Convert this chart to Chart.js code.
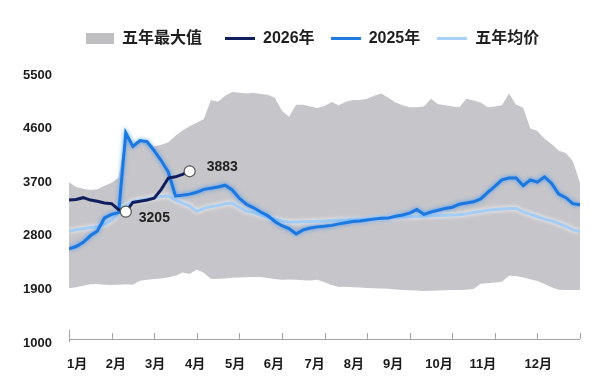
<!DOCTYPE html>
<html>
<head>
<meta charset="utf-8">
<script src="https://cdn.jsdelivr.net/npm/chart.js@4.4.1/dist/chart.umd.min.js"></script>
<style>
  body { margin: 0; background: #fff; }
  #wrap { position: relative; width: 600px; height: 392px; }
  #legend {
    position: absolute; top: 29px; left: 86px;
    display: flex; align-items: center;
    font: bold 16px "Liberation Sans", "Noto Sans CJK SC", sans-serif;
    color: #1f1f1f; line-height: 18px;
  }
  #legend .item { display: flex; align-items: center; }
  #legend .mark { display: inline-block; margin-right: 8px; }
</style>
</head>
<body>
<div id="wrap">
  <canvas id="graph" width="600" height="392"></canvas>
  <div id="legend">
    <div class="item" style="margin-right:23px"><span class="mark" style="width:28px;height:11px;background:#bfbec1"></span>五年最大值</div>
    <div class="item" style="margin-right:16px"><span class="mark" style="width:30px;height:3px;background:#111e5e"></span>2026年</div>
    <div class="item" style="margin-right:17px"><span class="mark" style="width:30px;height:3px;background:#1e7be2"></span>2025年</div>
    <div class="item"><span class="mark" style="width:30px;height:3px;background:#a8d2f5"></span>五年均价</div>
  </div>
</div>
<script>
// one point every 5 days or so: 6 points per month, 73 points over the year
const STEPS_PER_MONTH = 6;

const monthLabels = ["1月", "2月", "3月", "4月", "5月", "6月", "7月", "8月", "9月", "10月", "11月", "12月"];
// where each month label sits on the axis (in months), as in the picture
const monthLabelPos = [0.19, 1.1, 2.02, 2.96, 3.9, 4.81, 5.77, 6.69, 7.61, 8.69, 9.72, 11.02];
const yTicks = [1000, 1900, 2800, 3700, 4600, 5500];

const fiveYearMax = [
  3700, 3620, 3590, 3570, 3580, 3640, 3690, 3780, 4530, 4300,
  4400, 4380, 4300, 4330, 4370, 4480, 4570, 4640, 4700, 4760,
  5080, 5050, 5150, 5215, 5200, 5190, 5200, 5180, 5170, 5120,
  4900, 4800, 5000, 5000, 4970, 4945, 4980, 5045, 4990, 5050,
  5080, 5080, 5100, 5150, 5190, 5120, 5040, 4990, 4960, 4960,
  4970, 5100, 5010, 4990, 4970, 4960, 5100, 5070, 5040, 4960,
  4970, 4990, 5190, 5000, 4950, 4600, 4560, 4430, 4340, 4230,
  4190, 4050, 3690
];
const fiveYearMin = [
  1920, 1935, 1960, 1985, 1990, 1980, 1975, 1980, 1985, 1980,
  2045, 2060, 2075, 2085, 2105, 2130, 2185, 2160, 2235, 2180,
  2075, 2080, 2085, 2095, 2100, 2105, 2110, 2110, 2090, 2075,
  2060, 2065, 2060, 2055, 2050, 2060, 2020, 1975, 1940, 1945,
  1935, 1930, 1925, 1920, 1915, 1910, 1900, 1890, 1885, 1880,
  1875, 1878, 1880, 1885, 1890, 1890, 1895, 1905, 1995, 2005,
  2015, 2030, 2130, 2125, 2100, 2070, 2040, 1990, 1935, 1895,
  1890, 1890, 1890
];
const y2025 = [
  2580, 2620, 2690, 2800, 2880, 3100, 3160, 3190, 4530, 4300,
  4400, 4380, 4230, 4060, 3870, 3470, 3480, 3500, 3530, 3580,
  3600, 3620, 3650, 3570, 3430, 3330, 3270, 3200, 3140, 3040,
  2970, 2920, 2830, 2900, 2930, 2950, 2960, 2975, 3000, 3020,
  3040, 3050, 3065, 3080, 3095, 3100, 3130, 3150, 3180, 3240,
  3160, 3200, 3230, 3260, 3280, 3330, 3350, 3370, 3420, 3530,
  3630, 3740, 3770, 3770, 3640, 3740, 3700, 3790, 3680, 3500,
  3440, 3340, 3320
];
const fiveYearAvg = [
  2880, 2900, 2920, 2940, 2950, 2990, 3060, 3200, 3300, 3380,
  3400, 3420, 3440, 3460, 3470, 3400, 3350, 3300, 3210, 3260,
  3290, 3310, 3340, 3350, 3280, 3210, 3190, 3150, 3110, 3080,
  3050, 3030, 3030, 3035, 3040, 3045, 3050, 3055, 3060, 3065,
  3070, 3075, 3080, 3090, 3100, 3105, 3110, 3115, 3120, 3125,
  3130, 3135, 3140, 3145, 3150, 3155, 3170, 3190, 3210, 3230,
  3240, 3250, 3260, 3260, 3200, 3160, 3120, 3080, 3050, 3010,
  2960, 2900, 2870
];
const y2026 = [3400, 3410, 3440, 3400, 3380, 3350, 3340, 3240, 3205, 3360, 3380, 3400, 3430, 3580, 3770, 3790, 3830, 3883];

// points of 2026 that get a marker and a value label
const markedPoints = [8, 17];

const toXY = arr => arr.map((v, i) => ({ x: i / STEPS_PER_MONTH, y: v }));

const tickFont = { family: '"Liberation Sans", "Noto Sans CJK SC", sans-serif', size: 13, weight: "bold" };

// axis line with small tick marks pointing up, at month boundaries
const axisLine = {
  id: "axisLine",
  afterDatasetsDraw(chart) {
    const { ctx, chartArea, scales } = chart;
    const y0 = chartArea.bottom - 4;
    ctx.save();
    ctx.strokeStyle = "#a4a4a4";
    ctx.lineWidth = 1;
    ctx.beginPath();
    ctx.moveTo(scales.x.getPixelForValue(0), y0 + 0.5);
    ctx.lineTo(scales.x.getPixelForValue(12), y0 + 0.5);
    for (let m = 0; m <= 12; m++) {
      const px = Math.round(scales.x.getPixelForValue(m)) + 0.5;
      ctx.moveTo(px, y0 - (m === 0 ? 9 : 6));
      ctx.lineTo(px, y0 + (m === 0 ? 3 : 0));
    }
    ctx.stroke();
    ctx.restore();
  },
};

// soft glow under the two blue lines
const glow = {
  id: "glow",
  beforeDatasetDraw(chart, args) {
    const ds = chart.data.datasets[args.index];
    if (!ds.glow) return;
    chart.ctx.save();
    chart.ctx.shadowColor = ds.glow;
    chart.ctx.shadowBlur = 4;
  },
  afterDatasetDraw(chart, args) {
    if (chart.data.datasets[args.index].glow) chart.ctx.restore();
  },
};

// value labels next to the marked 2026 points
const valueLabels = {
  id: "valueLabels",
  afterDatasetsDraw(chart) {
    const meta = chart.getDatasetMeta(2);
    const { ctx } = chart;
    ctx.save();
    ctx.font = "bold 14px 'Liberation Sans', sans-serif";
    ctx.fillStyle = "#222";
    ctx.textAlign = "left";
    ctx.textBaseline = "middle";
    const p1 = meta.data[markedPoints[0]];
    ctx.fillText(String(y2026[markedPoints[0]]), p1.x + 13, p1.y + 6);
    const p2 = meta.data[markedPoints[1]];
    ctx.fillText(String(y2026[markedPoints[1]]), p2.x + 17, p2.y - 4);
    ctx.restore();
  },
};

const ctx = document.getElementById("graph").getContext("2d");

new Chart(ctx, {
  type: "line",
  data: {
    datasets: [
      {
        label: "五年最大值",
        data: toXY(fiveYearMax),
        borderWidth: 0,
        pointRadius: 0,
        backgroundColor: "#c6c5c9",
        fill: "+1",
        order: 10,
      },
      {
        label: "五年最小值",
        data: toXY(fiveYearMin),
        borderWidth: 0,
        pointRadius: 0,
        fill: false,
        order: 11,
      },
      {
        label: "2026年",
        data: toXY(y2026),
        borderColor: "#111e5e",
        borderWidth: 3,
        pointRadius: y2026.map((v, i) => (markedPoints.includes(i) ? 5.5 : 0)),
        pointBackgroundColor: "#fff",
        pointBorderColor: "#555",
        pointBorderWidth: 1.2,
        fill: false,
        order: 0,
      },
      {
        label: "2025年",
        data: toXY(y2025),
        borderColor: "#1b78e0",
        borderWidth: 3,
        pointRadius: 0,
        fill: false,
        glow: "rgba(40,140,255,0.8)",
        order: 1,
      },
      {
        label: "五年均价",
        data: toXY(fiveYearAvg),
        borderColor: "#a3cdf4",
        borderWidth: 3,
        pointRadius: 0,
        fill: false,
        glow: "rgba(255,255,255,0.9)",
        order: 2,
      },
    ],
  },
  options: {
    responsive: false,
    animation: false,
    devicePixelRatio: 1,
    layout: { padding: { top: 75, right: 20, left: 0, bottom: 0 } },
    elements: { line: { tension: 0 } },
    plugins: {
      legend: { display: false },
      tooltip: { enabled: false },
    },
    scales: {
      x: {
        type: "linear",
        min: 0,
        max: 12,
        grid: { display: false, drawTicks: false },
        border: { display: false },
        afterBuildTicks: scale => {
          scale.ticks = monthLabelPos.map(v => ({ value: v }));
        },
        afterFit: scale => {
          scale.height = 49;
        },
        ticks: {
          autoSkip: false,
          maxRotation: 0,
          padding: 14,
          color: "#1a1a1a",
          font: tickFont,
          callback: (v, i) => monthLabels[i],
        },
      },
      y: {
        min: yTicks[0],
        max: yTicks[yTicks.length - 1],
        grid: { display: false, drawTicks: false },
        border: { display: false },
        afterBuildTicks: scale => {
          scale.ticks = yTicks.map(v => ({ value: v }));
        },
        afterFit: scale => {
          scale.width = 69;
        },
        ticks: {
          padding: 17,
          color: "#1a1a1a",
          font: tickFont,
          callback: v => String(v),
        },
      },
    },
  },
  plugins: [axisLine, glow, valueLabels],
});
</script>
</body>
</html>
